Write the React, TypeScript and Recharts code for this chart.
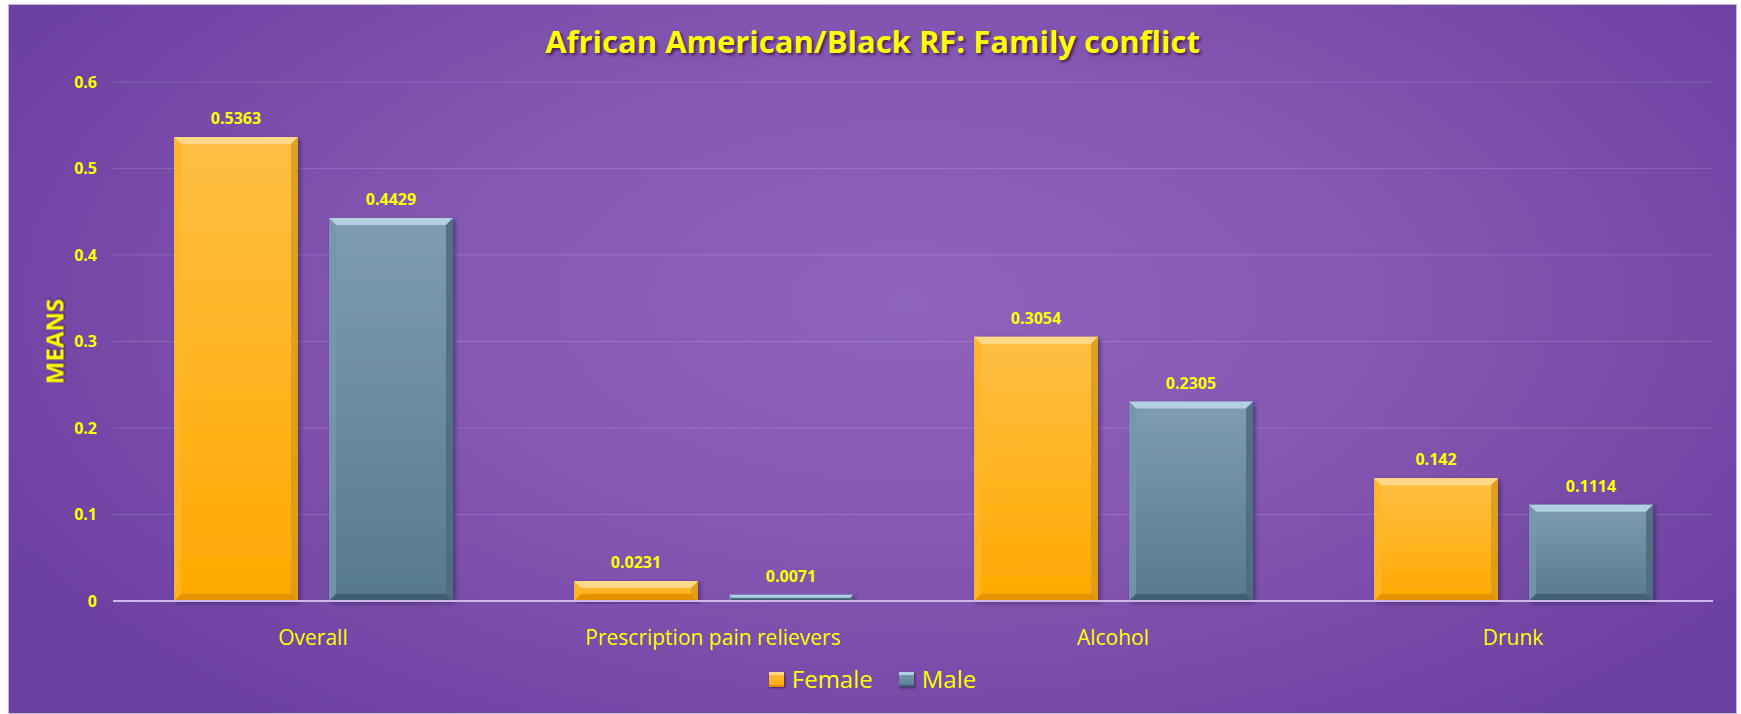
import React from 'react';
import { BarChart, Bar, XAxis, YAxis, CartesianGrid, Legend, LabelList } from 'recharts';

const categories = ['Overall', 'Prescription pain relievers', 'Alcohol', 'Drunk'];
const femaleValues = [0.5363, 0.0231, 0.3054, 0.142];
const maleValues = [0.4429, 0.0071, 0.2305, 0.1114];
const yTicks = [0, 0.1, 0.2, 0.3, 0.4, 0.5, 0.6];
const titleText = 'African American/Black RF: Family conflict';
const yAxisTitle = 'MEANS';

const data = categories.map((c, i) => ({ name: c, Female: femaleValues[i], Male: maleValues[i] }));

const YELLOW = '#FFFF00';
const FONT = '"Open Sans", "Noto Sans", sans-serif';

const palettes: Record<string, any> = {
  female: { id: 'gFemale', top: '#FFC04A', bottom: '#FFA800', hi: '#FFD98A', side: '#FFB52A', dark: '#E09000', sideR: '#D99A20' },
  male: { id: 'gMale', top: '#7F9EB4', bottom: '#577990', hi: '#B3CFE2', side: '#7796AC', dark: '#3F5C72', sideR: '#4D6A80' },
};

const makeBevel = (key: string) => (props: any) => {
  const { x, y, width, height } = props;
  if (width == null || height == null || height <= 0) return null;
  const p = palettes[key];
  const b = Math.max(1, Math.min(7, height / 2.2, width / 4));
  const x2 = x + width;
  const y2 = y + height;
  return (
    <g filter="url(#barShadow)">
      <rect x={x} y={y} width={width} height={height} fill={`url(#${p.id})`} />
      <polygon points={`${x},${y} ${x2},${y} ${x2 - b},${y + b} ${x + b},${y + b}`} fill={p.hi} />
      <polygon points={`${x},${y} ${x + b},${y + b} ${x + b},${y2 - b} ${x},${y2}`} fill={p.side} opacity={0.85} />
      <polygon points={`${x2},${y} ${x2},${y2} ${x2 - b},${y2 - b} ${x2 - b},${y + b}`} fill={p.sideR} opacity={0.85} />
      <polygon points={`${x},${y2} ${x + b},${y2 - b} ${x2 - b},${y2 - b} ${x2},${y2}`} fill={p.dark} opacity={0.9} />
    </g>
  );
};

const FemaleShape = makeBevel('female');
const MaleShape = makeBevel('male');

const legendIcon = (key: string) => {
  const p = palettes[key];
  return (
    <span
      style={{
        display: 'inline-block',
        width: 15,
        height: 15,
        background: `linear-gradient(${p.top}, ${p.bottom})`,
        boxShadow: `inset 0 3px 0 ${p.hi}, inset 0 -2px 0 ${p.dark}, 1px 1px 2px rgba(40,0,60,0.6)`,
        marginRight: 8,
      }}
    />
  );
};

const renderLegend = (props: any) => {
  const items = props.payload || [];
  return (
    <div style={{ display: 'flex', justifyContent: 'center', alignItems: 'center', height: 30 }}>
      {items.map((it: any, i: number) => (
        <span key={i} style={{ display: 'inline-flex', alignItems: 'center', marginLeft: i ? 26 : 0 }}>
          {legendIcon(it.value === 'Female' ? 'female' : 'male')}
          <span style={{ color: YELLOW, fontFamily: FONT, fontSize: 24, lineHeight: '30px' }}>{it.value}</span>
        </span>
      ))}
    </div>
  );
};

const yLabel = (p: any) => {
  const vb = p.viewBox || { x: 0, y: 0, width: 0, height: 0 };
  const cx = vb.x + 22;
  const cy = vb.y + vb.height / 2;
  return (
    <text
      x={cx}
      y={cy}
      transform={`rotate(-90 ${cx} ${cy})`}
      textAnchor="middle"
      dominantBaseline="central"
      fill={YELLOW}
      fontFamily={FONT}
      fontWeight={700}
      fontSize={24}
      style={{ filter: 'drop-shadow(1px 1px 1px rgba(40,0,60,0.6))' }}
    >
      {yAxisTitle}
    </text>
  );
};

export default function App() {
  const W = 1729;
  const H = 710;
  return (
    <div
      style={{
        position: 'absolute',
        left: 8,
        top: 4,
        width: W,
        height: H,
        background: 'radial-gradient(ellipse 60% 75% at 52% 42%, #8E63BD 0%, #8558B3 45%, #6C40A0 100%)',
        boxShadow: 'inset 0 0 0 1px #C9B5E2',
        overflow: 'hidden',
      }}
    >
      <div
        style={{
          position: 'absolute',
          left: 0,
          top: 17,
          width: W,
          textAlign: 'center',
          lineHeight: '40px',
          fontFamily: FONT,
          fontWeight: 700,
          fontSize: 31,
          color: YELLOW,
          textShadow: '2px 2px 3px rgba(50,10,60,0.75)',
        }}
      >
        {titleText}
      </div>
      <BarChart
        width={W}
        height={H}
        data={data}
        margin={{ top: 78, right: 24, left: 24, bottom: 20 }}
        barCategoryGap={61}
        barGap={31}
        style={{ position: 'absolute', left: 0, top: 0 }}
      >
        <defs>
          <linearGradient id="gFemale" x1="0" y1="0" x2="0" y2="1">
            <stop offset="0%" stopColor="#FFBF45" />
            <stop offset="100%" stopColor="#FFA900" />
          </linearGradient>
          <linearGradient id="gMale" x1="0" y1="0" x2="0" y2="1">
            <stop offset="0%" stopColor="#7E9DB3" />
            <stop offset="100%" stopColor="#57798F" />
          </linearGradient>
          <filter id="barShadow" x="-10%" y="-10%" width="125%" height="125%">
            <feDropShadow dx="2" dy="2" stdDeviation="2" floodColor="#2A0A40" floodOpacity="0.55" />
          </filter>
        </defs>
        <CartesianGrid vertical={false} stroke="rgba(255,255,255,0.14)" strokeWidth={1} />
        <XAxis
          dataKey="name"
          height={63}
          tickLine={false}
          axisLine={{ stroke: '#CDB8EC', strokeWidth: 2 }}
          tickMargin={23}
          tick={{ fill: YELLOW, fontFamily: FONT, fontSize: 21 }}
          interval={0}
        />
        <YAxis
          width={81}
          domain={[0, 0.6]}
          ticks={yTicks}
          tickLine={false}
          axisLine={false}
          tickMargin={10}
          tick={{ fill: YELLOW, fontFamily: FONT, fontSize: 16, fontWeight: 700 }}
          label={{ content: yLabel }}
        />
        <Legend verticalAlign="bottom" height={30} content={renderLegend} />
        <Bar dataKey="Female" name="Female" fill="#FFB000" shape={FemaleShape} isAnimationActive={false}>
          <LabelList
            dataKey="Female"
            position="top"
            offset={13}
            fill={YELLOW}
            fontFamily={FONT}
            fontSize={16}
            fontWeight={700}
          />
        </Bar>
        <Bar dataKey="Male" name="Male" fill="#6A8BA2" shape={MaleShape} isAnimationActive={false}>
          <LabelList
            dataKey="Male"
            position="top"
            offset={13}
            fill={YELLOW}
            fontFamily={FONT}
            fontSize={16}
            fontWeight={700}
          />
        </Bar>
      </BarChart>
    </div>
  );
}
